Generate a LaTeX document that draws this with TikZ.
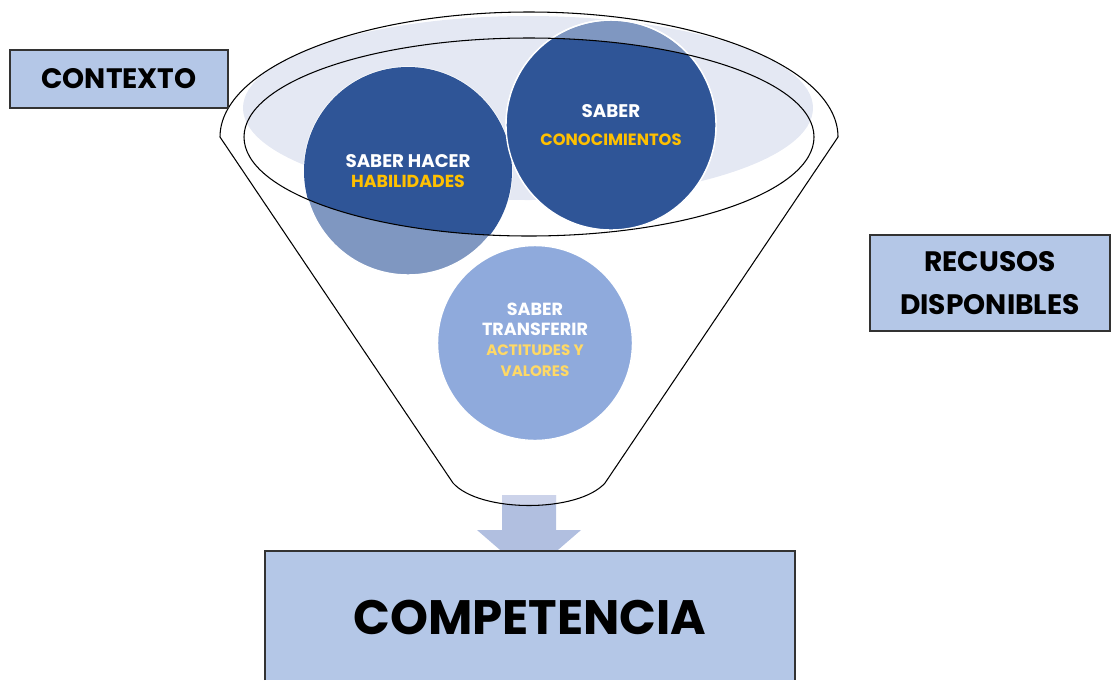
\documentclass[tikz,border=0pt]{standalone}
\usepackage{fontspec}
\setmainfont{Poppins}
\usepackage{tikz}
\usetikzlibrary{positioning}

\definecolor{boxblue}{HTML}{B4C7E7}
\definecolor{deepblue}{HTML}{2F5597}
\definecolor{paleblue}{HTML}{7F97C1}
\definecolor{softblue}{HTML}{8FAADC}
\definecolor{haze}{HTML}{E4E8F3}
\definecolor{arrowblue}{HTML}{B1BFE0}
\definecolor{arrowtop}{HTML}{CCD3EA}
\definecolor{gold}{HTML}{FFC000}
\definecolor{sand}{HTML}{FFD966}
\definecolor{edge}{HTML}{333333}

\newcommand{\smallgold}[3]{\textcolor{#1}{\fontsize{#2}{10.5}\selectfont #3}}

\tikzset{
  labelbox/.style={draw=edge, line width=1pt, fill=boxblue, font=\bfseries\fontsize{16}{24}\selectfont, align=center, inner sep=0pt},
  bubble/.style={circle, draw=white, line width=0.8pt, inner sep=0pt},
  bubbletext/.style={text=white, font=\bfseries\fontsize{10.4}{11.5}\selectfont, align=center}
}

\begin{document}
\begin{tikzpicture}[x=0.02cm, y=-0.02cm]
	\useasboundingbox (0,0) rectangle (1111,680);
	% haze behind the bubbles
	\fill[haze] (528,108) ellipse [x radius=285, y radius=92];
	\node[bubble, fill=paleblue, minimum size=4.16cm] (hacer) at (408,171) {};
	\node[bubble, fill=paleblue, minimum size=4.2cm] (saber) at (611,125) {};
	\begin{scope}
		\clip (529,137) ellipse [x radius=285, y radius=99];
		\fill[deepblue] (hacer.center) circle [radius=104];
		\fill[deepblue] (saber.center) circle [radius=105];
	\end{scope}
	\draw[white, line width=0.8pt] (saber.center) circle [radius=105];
	\node[bubble, fill=softblue, minimum size=3.9cm] (transferir) at (535,343) {};

	\node[bubbletext] at (hacer) {SABER HACER\\\smallgold{gold}{9.9}{HABILIDADES}};
	\node[bubbletext, font=\bfseries\fontsize{10.4}{16}\selectfont] at (saber) {SABER\\\smallgold{gold}{9.3}{CONOCIMIENTOS}};
	\node[bubbletext, font=\bfseries\fontsize{10}{11.5}\selectfont] at ([yshift=2pt]transferir.center) {SABER\\TRANSFERIR\\\smallgold{sand}{8.6}{ACTITUDES Y}\\\smallgold{sand}{8.6}{VALORES}};

	% arrow into the box
	\fill[arrowblue] (502,495) -- (556,495) -- (556,530) -- (581,530) -- (529,575) -- (477,530) -- (502,530) -- cycle;
	\begin{scope}
		\clip (453,483) .. controls (480,513) and (578,513) .. (605,483) -- (605,470) -- (453,470) -- cycle;
		\fill[arrowtop] (502,495) rectangle (556,520);
	\end{scope}

	% funnel
	\draw[line width=0.6pt] (529,137) ellipse [x radius=285, y radius=99];
	\draw[line width=0.6pt] (220,137) arc [start angle=180, end angle=360, x radius=309, y radius=125]
		-- (605,483) .. controls (578,513) and (480,513) .. (453,483) -- cycle;

	\node[labelbox, minimum width=4.36cm, minimum height=1.16cm] (contexto) at (119,79) {CONTEXTO};
	\node[labelbox, minimum width=4.8cm, minimum height=1.92cm] (recursos) at (990,283) {RECUSOS\\DISPONIBLES};

	\fill[boxblue] (265,551) rectangle (795,680);
	\draw[edge, line width=0.8pt] (265,680) -- (265,551) -- (795,551) -- (795,680);
	\node[font=\bfseries\fontsize{27.5}{33}\selectfont] (competencia) at (530,617) {COMPETENCIA};
\end{tikzpicture}
\end{document}
